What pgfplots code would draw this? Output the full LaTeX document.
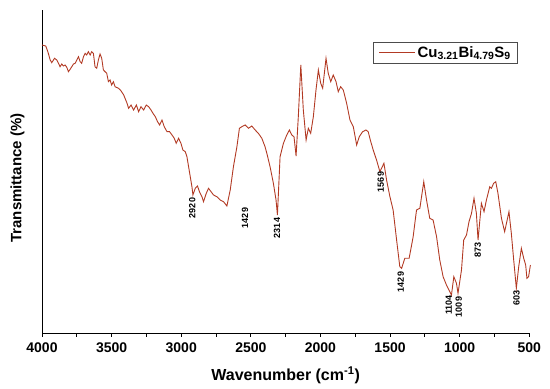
\documentclass[border=0pt]{standalone}
\usepackage{fontspec}
\setmainfont{Liberation Sans}
\usepackage{pgfplots}
\pgfplotsset{compat=1.18}
\definecolor{ftir}{RGB}{178,58,36}
\begin{document}
\begin{tikzpicture}
\path[use as bounding box] (-42pt,-56pt) rectangle (508pt,333pt);
\begin{axis}[
  scale only axis, width=487.3pt, height=323pt,
  at={(0,0)}, anchor=south west,
  x dir=reverse, xmin=500, xmax=4000, ymin=0, ymax=323,
  axis x line*=bottom, axis y line*=left,
  axis line style={black, line width=0.8pt},
  xtick={500,1000,...,4000}, minor xtick={750,1250,...,3750},
  ytick=\empty,
  tick align=outside, major tick length=3.5pt, minor tick length=3.5pt,
  every tick/.style={black, line width=0.8pt},
  /pgf/number format/assume math mode=true,
  /pgf/number format/1000 sep={},
  ticklabel style={font=\fontsize{14}{16}\selectfont\bfseries},
  xticklabel style={yshift=-3pt},
  xlabel={Wavenumber (cm\textsuperscript{-1})},
  ylabel={Transmittance (\%)},
  xlabel style={font=\fontsize{16}{18}\selectfont\bfseries, at={(axis description cs:0.5,0)}, yshift=-42pt, anchor=center},
  ylabel style={font=\fontsize{15}{18}\selectfont\bfseries, at={(axis description cs:0,0.48)}, anchor=center, yshift=24.5pt},
  clip=false,
  legend style={at={(0.977,0.90)}, anchor=north east, draw=black!70, line width=0.6pt,
    font=\fontsize{15}{18}\selectfont\bfseries, inner xsep=5pt, inner ysep=2pt},
  legend cell align=left,
  legend image code/.code={\draw[#1] (0pt,0pt) -- (36pt,0pt);},
]
\addplot[color=ftir, line width=0.9pt] coordinates {
(4000,288) (3973,287) (3958,281.3) (3941,273) (3930,270.3) (3910,274.7) (3894,273) (3882,269.7)
(3870,266.3) (3858,269) (3846,267) (3834,268) (3822,265.7) (3810,261.3) (3798,263.7) (3786,266.3)
(3774,269) (3762,269.7) (3750,273) (3738,276.3) (3726,271.3) (3715,269.7) (3702,276.3) (3690,279.7)
(3679,278) (3667,281.3) (3654,278) (3643,281.3) (3631,279.7) (3619,266.3) (3607,264.7) (3595,273)
(3583,279) (3571,274.7) (3559,263) (3547,261.3) (3535,259.7) (3523,251.3) (3511,253) (3500,248)
(3487,251.3) (3475,246.3) (3451,244.7) (3437,243) (3413,238) (3389,229.7) (3378,224.7) (3360,228)
(3342,223) (3322,228) (3306,221.3) (3289,226.3) (3270,223) (3251,228) (3234,226.3) (3217,223)
(3203,219.7) (3186,216.3) (3170,211.3) (3155,208) (3138,213) (3122,206.3) (3102,201.3) (3084,201.3)
(3066,198) (3050,194.7) (3036,189.7) (3019,194.7) (3002,189.7) (2988,183) (2971,181.3) (2959,176.3)
(2947,166.3) (2935,156.3) (2923,146.3) (2916,138) (2899,144.7) (2883,147) (2869,141.3) (2851,136.3)
(2840,131.3) (2820,139.7) (2804,144.7) (2768,138) (2744,136.3) (2720,133) (2696,131.3) (2672,127)
(2648,143) (2625,166.3) (2600,186.3) (2582,204.7) (2565,206.3) (2541,208) (2517,204.7) (2493,207)
(2469,203) (2446,199.7) (2421,194.7) (2398,186.3) (2385,179.7) (2362,166.3) (2338,149.7) (2319,133)
(2309,118) (2290,176.3) (2266,189.7) (2242,198) (2223,203) (2206,198) (2190,196.3) (2175,177)
(2159,216.3) (2141,268) (2123,223) (2103,193) (2087,204.7) (2070,199.7) (2051,216.3) (2032,243)
(2015,263) (1998,249.7) (1984,244.7) (1960,274.7) (1944,259.7) (1926,251.3) (1908,258) (1888,251.3)
(1872,241.3) (1855,246.3) (1836,243) (1812,229.7) (1788,213) (1764,206.3) (1740,188) (1721,196.3)
(1697,201.3) (1673,203) (1657,201.3) (1642,193) (1621,183) (1597,173) (1573,161.3) (1544,169.7)
(1525,153) (1501,136.3) (1478,123) (1453,93) (1430,66.3) (1417,64.7) (1394,74.7) (1363,74.7)
(1334,96.3) (1310,123) (1286,124.7) (1258,151.3) (1238,133) (1215,114.7) (1191,113) (1166,96.3)
(1143,73) (1119,56.3) (1095,48) (1071,41.3) (1059,38) (1042,56.3) (1023,49.7) (1012,39.7)
(987,63) (971,93) (951,98) (933,111.3) (915,119.7) (897,134.7) (880,119.7) (868,93)
(844,129.7) (825,121.3) (808,133) (784,146.3) (772,144.7) (756,149.7) (741,151.3) (725,139.7)
(700,114.7) (677,101.3) (664,109.7) (646,121.3) (629,99.7) (612,73) (593,44.7) (576,66.3)
(557,84.7) (540,74.7) (526,68) (517,54.7) (505,56.3) (492,68)
};
\addlegendentry{Cu\textsubscript{3.21}Bi\textsubscript{4.79}S\textsubscript{9}}
\begin{scope}[every node/.style={rotate=90, font=\fontsize{9}{10}\selectfont\bfseries, inner sep=0pt}]
\node at (axis cs:2921,125) {2920};
\node at (axis cs:2541,115) {1429};
\node at (axis cs:2311,105) {2314};
\node at (axis cs:1566,151) {1569};
\node at (axis cs:1423,51) {1429};
\node at (axis cs:1078,28) {1104};
\node at (axis cs:1006,26) {1009};
\node at (axis cs:870,83) {873};
\node at (axis cs:591,35) {603};
\end{scope}
\end{axis}
\end{tikzpicture}
\end{document}
